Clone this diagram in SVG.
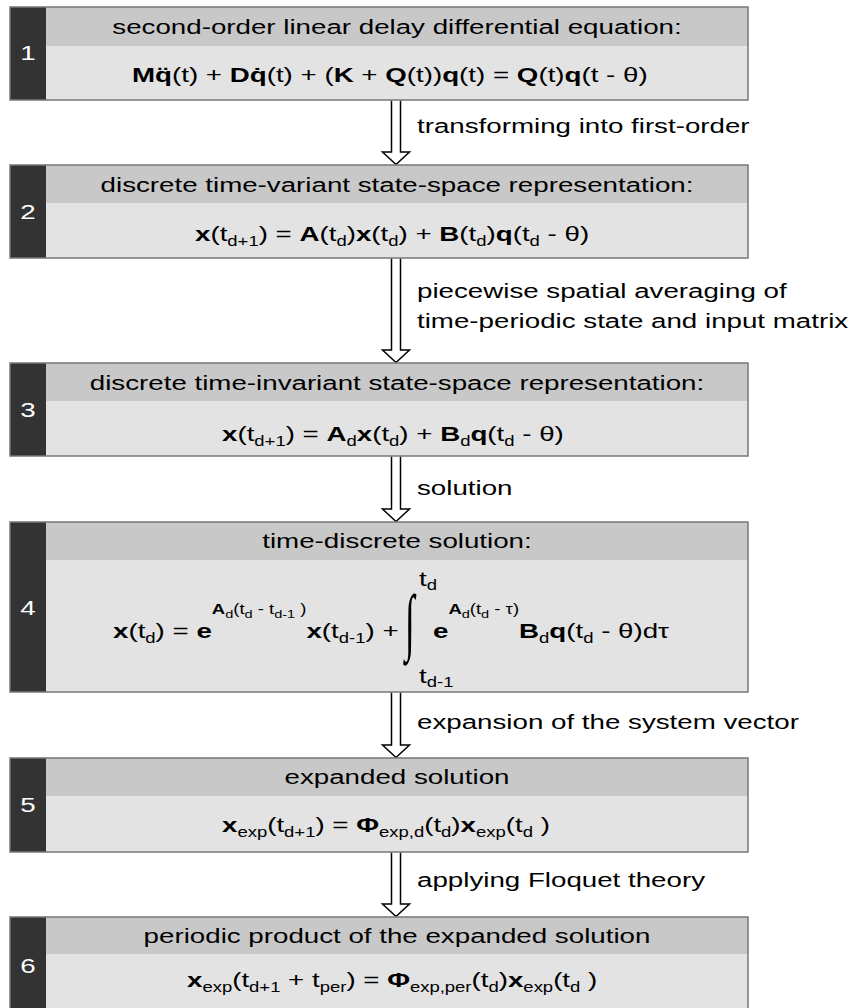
<svg xmlns="http://www.w3.org/2000/svg" width="858" height="1008" viewBox="0 0 858 1008">
<style>
text{font-family:"Liberation Sans",Arial,sans-serif;font-size:21px;fill:#000}
.b{font-weight:bold}
.num{fill:#fff;text-anchor:middle}
.hd{text-anchor:middle}
.hdr{fill:#c8c8c8}
.body{fill:#e3e3e3}
.strip{fill:#333}
.frame{fill:none;stroke:#777;stroke-width:1.5}
.arr{fill:#fff;stroke:#000;stroke-width:1.5;stroke-linejoin:miter}
text.int{font-family:"Liberation Serif",serif;font-size:32px}
</style>
<rect width="858" height="1008" fill="#fff"/>
<g id="connectors">
<path class="arr" d="M391.5,100.5V152H382.5L396,164.5L409.5,152H400.5V100.5"/>
<path class="arr" d="M391.5,258.5V350H382.5L396,362.5L409.5,350H400.5V258.5"/>
<path class="arr" d="M391.5,456.5V509H382.5L396,521.5L409.5,509H400.5V456.5"/>
<path class="arr" d="M391.5,692.5V745H382.5L396,757.5L409.5,745H400.5V692.5"/>
<path class="arr" d="M391.5,852.5V904H382.5L396,916.5L409.5,904H400.5V852.5"/>
<text transform="translate(417,133) scale(1.32,1)">transforming into first-order</text>
<text transform="translate(417,298) scale(1.32,1)">piecewise spatial averaging of</text>
<text transform="translate(417,328) scale(1.32,1)">time-periodic state and input matrix</text>
<text transform="translate(417,495) scale(1.32,1)">solution</text>
<text transform="translate(417,729) scale(1.32,1)">expansion of the system vector</text>
<text transform="translate(417,887) scale(1.32,1)">applying Floquet theory</text>
</g>
<g id="node1">
<rect class="body" x="10" y="7" width="738" height="93"/>
<rect class="hdr" x="10" y="7" width="738" height="39"/>
<rect class="strip" x="10" y="7" width="36" height="93"/>
<rect class="frame" x="10" y="7" width="738" height="93"/>
<text class="num" transform="translate(28,60) scale(1.32,1)">1</text>
<text class="hd" transform="translate(397,34) scale(1.32,1)">second-order linear delay differential equation:</text>
<text transform="translate(132,82) scale(1.32,1)"><tspan class="b">Mq̈</tspan>(t) + <tspan class="b">Dq̇</tspan>(t) + (<tspan class="b">K</tspan> + <tspan class="b">Q</tspan>(t))<tspan class="b">q</tspan>(t) = <tspan class="b">Q</tspan>(t)<tspan class="b">q</tspan>(t - θ)</text>
</g>
<g id="node2">
<rect class="body" x="10" y="165" width="738" height="93"/>
<rect class="hdr" x="10" y="165" width="738" height="38"/>
<rect class="strip" x="10" y="165" width="36" height="93"/>
<rect class="frame" x="10" y="165" width="738" height="93"/>
<text class="num" transform="translate(28,219) scale(1.32,1)">2</text>
<text class="hd" transform="translate(397,192) scale(1.32,1)">discrete time-variant state-space representation:</text>
<text transform="translate(195,241) scale(1.32,1)"><tspan class="b">x</tspan>(t<tspan font-size="14" dy="5">d+1</tspan><tspan dy="-5">) = </tspan><tspan class="b">A</tspan>(t<tspan font-size="14" dy="5">d</tspan><tspan dy="-5">)</tspan><tspan class="b">x</tspan>(t<tspan font-size="14" dy="5">d</tspan><tspan dy="-5">) + </tspan><tspan class="b">B</tspan>(t<tspan font-size="14" dy="5">d</tspan><tspan dy="-5">)</tspan><tspan class="b">q</tspan>(t<tspan font-size="14" dy="5">d</tspan><tspan dy="-5"> - θ)</tspan></text>
</g>
<g id="node3">
<rect class="body" x="10" y="363" width="738" height="93"/>
<rect class="hdr" x="10" y="363" width="738" height="38"/>
<rect class="strip" x="10" y="363" width="36" height="93"/>
<rect class="frame" x="10" y="363" width="738" height="93"/>
<text class="num" transform="translate(28,417) scale(1.32,1)">3</text>
<text class="hd" transform="translate(397,390) scale(1.32,1)">discrete time-invariant state-space representation:</text>
<text transform="translate(222,441) scale(1.32,1)"><tspan class="b">x</tspan>(t<tspan font-size="14" dy="5">d+1</tspan><tspan dy="-5">) = </tspan><tspan class="b">A</tspan><tspan font-size="14" dy="5">d</tspan><tspan class="b" dy="-5">x</tspan>(t<tspan font-size="14" dy="5">d</tspan><tspan dy="-5">) + </tspan><tspan class="b">B</tspan><tspan font-size="14" dy="5">d</tspan><tspan class="b" dy="-5">q</tspan>(t<tspan font-size="14" dy="5">d</tspan><tspan dy="-5"> - θ)</tspan></text>
</g>
<g id="node4">
<rect class="body" x="10" y="522" width="738" height="170"/>
<rect class="hdr" x="10" y="522" width="738" height="38"/>
<rect class="strip" x="10" y="522" width="36" height="170"/>
<rect class="frame" x="10" y="522" width="738" height="170"/>
<text class="num" transform="translate(28,615) scale(1.32,1)">4</text>
<text class="hd" transform="translate(397,548) scale(1.32,1)">time-discrete solution:</text>
<text transform="translate(113,638) scale(1.32,1)"><tspan class="b">x</tspan>(t<tspan font-size="14" dy="5">d</tspan><tspan dy="-5">) = </tspan><tspan class="b">e</tspan><tspan class="b" font-size="14" dy="-24">A</tspan><tspan font-size="11" dy="4">d</tspan><tspan font-size="14" dy="-4">(t</tspan><tspan font-size="11" dy="4">d</tspan><tspan font-size="14" dy="-4"> - t</tspan><tspan font-size="11" dy="4">d-1</tspan><tspan font-size="14" dy="-4"> )</tspan><tspan class="b" dy="24">x</tspan>(t<tspan font-size="14" dy="5">d-1</tspan><tspan dy="-5">) +</tspan></text>
<text class="int" transform="translate(405,646) scale(1.1,2.3)">∫</text>
<text transform="translate(419,586) scale(1.32,1)">t<tspan font-size="14" dy="4">d</tspan></text>
<text transform="translate(419,683) scale(1.32,1)">t<tspan font-size="14" dy="4">d-1</tspan></text>
<text transform="translate(433,638) scale(1.32,1)"><tspan class="b">e</tspan><tspan class="b" font-size="14" dy="-24">A</tspan><tspan font-size="11" dy="4">d</tspan><tspan font-size="14" dy="-4">(t</tspan><tspan font-size="11" dy="4">d</tspan><tspan font-size="14" dy="-4"> - τ)</tspan><tspan class="b" dy="24">B</tspan><tspan font-size="14" dy="5">d</tspan><tspan class="b" dy="-5">q</tspan>(t<tspan font-size="14" dy="5">d</tspan><tspan dy="-5"> - θ)dτ</tspan></text>
</g>
<g id="node5">
<rect class="body" x="10" y="758" width="738" height="94"/>
<rect class="hdr" x="10" y="758" width="738" height="38"/>
<rect class="strip" x="10" y="758" width="36" height="94"/>
<rect class="frame" x="10" y="758" width="738" height="94"/>
<text class="num" transform="translate(28,812) scale(1.32,1)">5</text>
<text class="hd" transform="translate(397,784) scale(1.32,1)">expanded solution</text>
<text transform="translate(222,832) scale(1.32,1)"><tspan class="b">x</tspan><tspan font-size="14" dy="5">exp</tspan><tspan dy="-5">(t</tspan><tspan font-size="14" dy="5">d+1</tspan><tspan dy="-5">) = </tspan><tspan class="b">Φ</tspan><tspan font-size="14" dy="5">exp,d</tspan><tspan dy="-5">(t</tspan><tspan font-size="14" dy="5">d</tspan><tspan dy="-5">)</tspan><tspan class="b">x</tspan><tspan font-size="14" dy="5">exp</tspan><tspan dy="-5">(t</tspan><tspan font-size="14" dy="5">d</tspan><tspan dy="-5"> )</tspan></text>
</g>
<g id="node6">
<rect class="body" x="10" y="917" width="738" height="94"/>
<rect class="hdr" x="10" y="917" width="738" height="37"/>
<rect class="strip" x="10" y="917" width="36" height="94"/>
<rect class="frame" x="10" y="917" width="738" height="94"/>
<text class="num" transform="translate(28,973) scale(1.32,1)">6</text>
<text class="hd" transform="translate(397,943) scale(1.32,1)">periodic product of the expanded solution</text>
<text transform="translate(187,987) scale(1.32,1)"><tspan class="b">x</tspan><tspan font-size="14" dy="5">exp</tspan><tspan dy="-5">(t</tspan><tspan font-size="14" dy="5">d+1</tspan><tspan dy="-5"> + t</tspan><tspan font-size="14" dy="5">per</tspan><tspan dy="-5">) = </tspan><tspan class="b">Φ</tspan><tspan font-size="14" dy="5">exp,per</tspan><tspan dy="-5">(t</tspan><tspan font-size="14" dy="5">d</tspan><tspan dy="-5">)</tspan><tspan class="b">x</tspan><tspan font-size="14" dy="5">exp</tspan><tspan dy="-5">(t</tspan><tspan font-size="14" dy="5">d</tspan><tspan dy="-5"> )</tspan></text>
</g>
</svg>
